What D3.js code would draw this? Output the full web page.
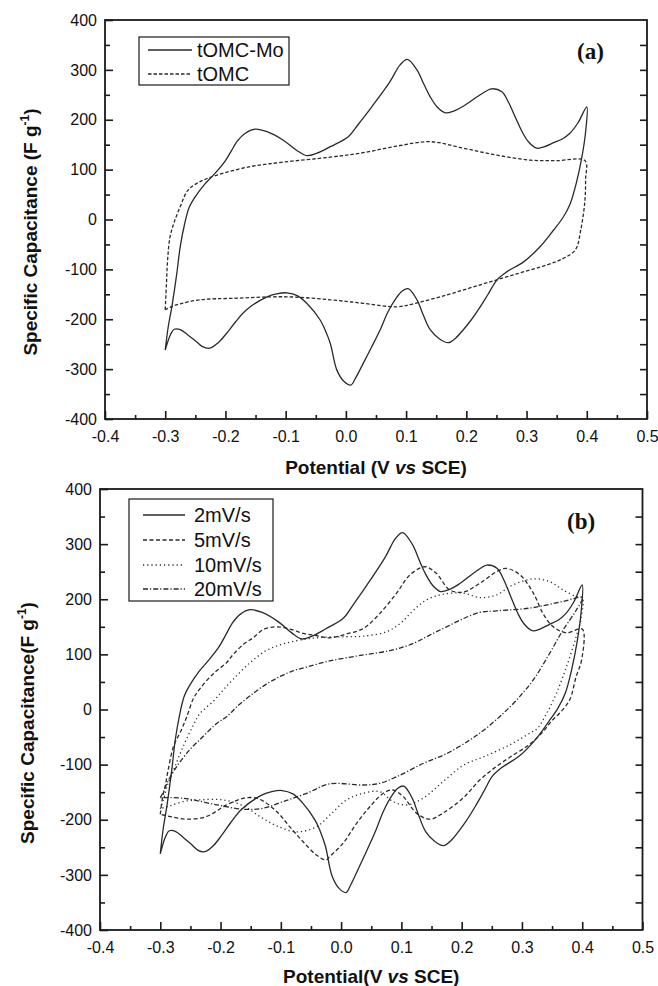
<!DOCTYPE html>
<html>
<head>
<meta charset="utf-8">
<script src="https://cdn.jsdelivr.net/npm/d3@7"></script>
<style>
    body{margin:0;background:#fff;}
    svg{display:block;}
    .tick text{font-family:"Liberation Sans",Arial,sans-serif;font-size:16px;fill:#111;}
    .axisTitle{font-family:"Liberation Sans",Arial,sans-serif;font-size:19px;font-weight:bold;fill:#111;}
    .legendLabel{font-family:"Liberation Sans",Arial,sans-serif;font-size:20px;fill:#111;}
    .panelLabel{font-family:"Liberation Serif","Times New Roman",serif;font-size:23px;font-weight:bold;fill:#111;}
</style>
</head>
<body>
<svg id="chart" width="658" height="986"></svg>
<script>
// ---- data (potential V vs SCE, specific capacitance F/g), each one closed CV loop
var xTicks = [-0.4,-0.3,-0.2,-0.1,0.0,0.1,0.2,0.3,0.4,0.5];
var yTicks = [-400,-300,-200,-100,0,100,200,300,400];

var tomcMo = [
    [-0.300,-262],[-0.295,-215],[-0.289,-175],[-0.281,-110],[-0.275,-54],[-0.268,-10],[-0.260,25],[-0.250,46],
    [-0.235,70],[-0.220,89],[-0.203,113],[-0.190,138],[-0.181,156],[-0.167,173],[-0.151,181],[-0.131,176],
    [-0.104,159],[-0.082,139],[-0.065,128],[-0.048,133],[-0.026,146],[0.004,166],[0.020,190],[0.043,226],
    [0.073,276],[0.090,310],[0.102,321],[0.118,300],[0.130,270],[0.140,246],[0.152,225],[0.165,214],
    [0.180,218],[0.195,227],[0.223,250],[0.242,262],[0.259,256],[0.270,235],[0.281,206],[0.293,175],
    [0.303,156],[0.317,143],[0.330,146],[0.345,154],[0.360,162],[0.372,173],[0.386,195],[0.400,226],
    [0.398,175],[0.392,126],[0.383,75],[0.372,30],[0.360,3],[0.345,-21],[0.322,-55],[0.295,-85],
    [0.267,-105],[0.251,-121],[0.237,-148],[0.223,-175],[0.207,-203],[0.195,-221],[0.182,-238],[0.170,-247],
    [0.155,-239],[0.140,-221],[0.128,-190],[0.118,-161],[0.104,-139],[0.094,-143],[0.085,-155],[0.070,-185],
    [0.057,-221],[0.043,-255],[0.029,-288],[0.016,-318],[0.008,-332],[-0.003,-325],[-0.015,-302],[-0.026,-248],
    [-0.035,-220],[-0.043,-201],[-0.065,-168],[-0.080,-153],[-0.098,-147],[-0.115,-149],[-0.131,-155],[-0.165,-181],
    [-0.183,-205],[-0.198,-228],[-0.212,-247],[-0.226,-258],[-0.238,-255],[-0.248,-245],[-0.262,-232],[-0.275,-221],
    [-0.285,-220],[-0.291,-230],[-0.300,-262]
];

var tomc = [
    [-0.300,-181],[-0.298,-130],[-0.296,-80],[-0.292,-35],[-0.285,-5],[-0.275,26],[-0.262,59],[-0.242,76],
    [-0.214,89],[-0.159,106],[-0.104,115],[-0.026,125],[0.029,134],[0.084,147],[0.140,156],[0.195,143],
    [0.251,129],[0.306,119],[0.350,118],[0.397,118],
    [0.398,80],[0.397,39],[0.390,-21],[0.381,-61],[0.361,-78],[0.334,-91],[0.278,-111],[0.223,-131],
    [0.168,-151],[0.112,-169],[0.085,-175],[0.029,-168],[-0.026,-161],[-0.098,-155],[-0.187,-158],[-0.242,-161],
    [-0.275,-169],[-0.292,-176],[-0.300,-181]
];

var rate2 = tomcMo; // 2 mV/s is the same scan as tOMC-Mo in (a)

var rate5 = [
    [-0.300,-190],[-0.296,-158],[-0.292,-140],[-0.287,-110],[-0.278,-67],[-0.265,-37],[-0.256,-13],[-0.245,20],
    [-0.234,38],[-0.212,65],[-0.190,85],[-0.179,100],[-0.160,120],[-0.146,130],[-0.129,145],[-0.107,150],
    [-0.085,146],[-0.063,138],[-0.041,134],[-0.019,130],[0.009,137],[0.037,147],[0.064,174],[0.092,211],
    [0.114,244],[0.139,259],[0.158,247],[0.180,217],[0.203,213],[0.230,229],[0.258,250],[0.274,256],
    [0.297,244],[0.319,211],[0.335,174],[0.352,150],[0.374,139],[0.400,146],
    [0.399,90],[0.390,60],[0.379,17],[0.363,-6],[0.350,-20],[0.335,-40],[0.313,-63],[0.285,-83],
    [0.258,-103],[0.230,-128],[0.203,-160],[0.169,-188],[0.147,-199],[0.125,-188],[0.103,-158],[0.086,-146],
    [0.070,-152],[0.048,-176],[0.026,-206],[0.003,-243],[-0.019,-267],[-0.025,-273],[-0.041,-264],[-0.063,-240],
    [-0.085,-213],[-0.107,-185],[-0.135,-163],[-0.157,-160],[-0.190,-173],[-0.223,-194],[-0.256,-199],[-0.280,-195],
    [-0.300,-190]
];

var rate10 = [
    [-0.300,-180],[-0.295,-165],[-0.289,-140],[-0.278,-110],[-0.262,-67],[-0.245,-28],[-0.234,-7],[-0.212,15],
    [-0.196,35],[-0.179,55],[-0.151,85],[-0.124,107],[-0.096,119],[-0.063,127],[-0.030,131],[0.009,132],
    [0.037,133],[0.075,141],[0.098,156],[0.120,180],[0.142,199],[0.169,209],[0.203,211],[0.230,203],
    [0.258,208],[0.285,226],[0.319,237],[0.346,232],[0.368,217],[0.390,205],[0.400,203],
    [0.398,165],[0.390,132],[0.374,78],[0.357,29],[0.341,-7],[0.325,-35],[0.313,-43],[0.280,-64],
    [0.236,-86],[0.203,-101],[0.169,-131],[0.136,-161],[0.109,-173],[0.086,-167],[0.064,-149],[0.037,-152],
    [0.009,-164],[-0.019,-192],[-0.041,-213],[-0.074,-222],[-0.107,-211],[-0.135,-194],[-0.162,-175],[-0.196,-164],
    [-0.234,-164],[-0.262,-167],[-0.285,-175],[-0.300,-180]
];

var rate20 = [
    [-0.300,-160],[-0.295,-150],[-0.289,-134],[-0.273,-104],[-0.251,-73],[-0.229,-49],[-0.206,-25],[-0.190,-13],
    [-0.170,8],[-0.146,29],[-0.124,46],[-0.101,60],[-0.080,70],[-0.057,77],[-0.019,88],[0.037,99],
    [0.086,108],[0.120,120],[0.147,135],[0.175,150],[0.203,165],[0.230,176],[0.258,179],[0.313,184],
    [0.368,196],[0.400,203],
    [0.390,180],[0.368,144],[0.346,102],[0.319,54],[0.291,17],[0.263,-13],[0.236,-38],[0.214,-55],
    [0.175,-80],[0.136,-98],[0.092,-122],[0.064,-134],[0.037,-137],[-0.019,-135],[-0.057,-152],[-0.096,-167],
    [-0.129,-179],[-0.162,-181],[-0.206,-173],[-0.262,-161],[-0.300,-160]
];

var seriesA = [
    {label:"tOMC-Mo", values:tomcMo, dash:null},
    {label:"tOMC",    values:tomc,   dash:"3.5,2"}
];
var seriesB = [
    {label:"2mV/s",  values:rate2,  dash:null},
    {label:"5mV/s",  values:rate5,  dash:"4,2.5"},
    {label:"10mV/s", values:rate10, dash:"1.2,3"},
    {label:"20mV/s", values:rate20, dash:"5,2,1.2,2"}
];

// ---- layout of the two panels (pixel boxes)
var panels = [
    {series:seriesA, left:105, right:647, top:20, bottom:419, tag:"(a)", tagX:577, tagY:59,
     yTitle:["Specific Capacitance (F g", ")"], yTitleX:37, yTitleY:232,
     xTitle:"Potential (V ", xTitleY:474,
     legend:{x:139, y:37, w:150, h:48, lineX0:148, lineX1:192, textX:197, rowY:[50,74]}},
    {series:seriesB, left:100, right:642.5, top:489, bottom:930, tag:"(b)", tagX:567, tagY:529,
     yTitle:["Specific Capacitance(F g", ")"], yTitleX:34, yTitleY:723,
     xTitle:"Potential(V ", xTitleY:983,
     legend:{x:129, y:499, w:144, h:102, lineX0:143, lineX1:185, textX:194, rowY:[515,540,565,589]}}
];

var svg = d3.select("#chart");
var ink = "#1a1a1a";
var hyphen = function(f){ return function(d){ return f(d).replace("\u2212","-"); }; };

panels.forEach(function(p){

    var x = d3.scaleLinear().domain([-0.4,0.5]).range([p.left,p.right]);
    var y = d3.scaleLinear().domain([-400,400]).range([p.bottom,p.top]);

    var g = svg.append("g").attr("class","panel");

    // -- axes (ticks point inward)
    var xMinor = d3.range(-0.35,0.5,0.1);
    var yMinor = d3.range(-350,400,100);

    g.append("g").attr("transform","translate(0,"+p.bottom+")")
        .call(d3.axisTop(x).tickValues(xMinor).tickSize(4).tickFormat(""));
    g.append("g").attr("class","xMajor").attr("transform","translate(0,"+p.bottom+")")
        .call(d3.axisTop(x).tickValues(xTicks).tickSize(8).tickFormat(hyphen(d3.format(".1f"))));
    g.select(".xMajor").selectAll(".tick text").attr("y",23).attr("dy","0");

    g.append("g").attr("transform","translate("+p.left+",0)")
        .call(d3.axisRight(y).tickValues(yMinor).tickSize(5).tickFormat(""));
    g.append("g").attr("class","yMajor").attr("transform","translate("+p.left+",0)")
        .call(d3.axisRight(y).tickValues(yTicks).tickSize(8).tickFormat(hyphen(d3.format("d"))));
    g.select(".yMajor").selectAll(".tick text").attr("x",-8).attr("text-anchor","end");

    g.append("g").attr("transform","translate("+p.right+",0)")
        .call(d3.axisLeft(y).tickValues(d3.range(-350,400,50)).tickSize(7).tickFormat(""));

    g.selectAll(".domain").remove();
    g.selectAll(".tick line").attr("stroke",ink).attr("stroke-width",1.6);

    // -- frame
    g.append("rect").attr("x",p.left).attr("y",p.top)
        .attr("width",p.right-p.left).attr("height",p.bottom-p.top)
        .attr("fill","none").attr("stroke",ink).attr("stroke-width",1.8);

    // -- curves
    var line = d3.line()
        .x(function(d){return x(d[0]);})
        .y(function(d){return y(d[1]);})
        .curve(d3.curveCatmullRom.alpha(0.5));

    g.selectAll(".cv").data(p.series).enter().append("path")
        .attr("class","cv")
        .attr("d",function(d){return line(d.values);})
        .attr("fill","none")
        .attr("stroke","#2a2a2a")
        .attr("stroke-width",1.3)
        .attr("stroke-dasharray",function(d){return d.dash;});

    // -- legend
    var L = p.legend;
    g.append("rect").attr("x",L.x).attr("y",L.y).attr("width",L.w).attr("height",L.h)
        .attr("fill","#fff").attr("stroke",ink).attr("stroke-width",1.2);

    var rows = g.selectAll(".legendRow").data(p.series).enter().append("g")
        .attr("class","legendRow")
        .attr("transform",function(d,i){return "translate(0,"+L.rowY[i]+")";});
    rows.append("line").attr("x1",L.lineX0).attr("x2",L.lineX1).attr("y1",0).attr("y2",0)
        .attr("stroke","#2a2a2a").attr("stroke-width",1.3)
        .attr("stroke-dasharray",function(d){return d.dash;});
    rows.append("text").attr("class","legendLabel").attr("x",L.textX).attr("y",7)
        .text(function(d){return d.label;});

    // -- panel tag
    g.append("text").attr("class","panelLabel").attr("x",p.tagX).attr("y",p.tagY).text(p.tag);

    // -- axis titles
    var xt = g.append("text").attr("class","axisTitle")
        .attr("x",(p.left+p.right)/2).attr("y",p.xTitleY).attr("text-anchor","middle");
    xt.append("tspan").text(p.xTitle);
    xt.append("tspan").attr("font-style","italic").text("vs");
    xt.append("tspan").text(" SCE)");

    var yt = g.append("text").attr("class","axisTitle").attr("text-anchor","middle")
        .attr("transform","translate("+p.yTitleX+","+p.yTitleY+") rotate(-90)");
    yt.append("tspan").text(p.yTitle[0]);
    yt.append("tspan").attr("font-size","12px").attr("dy",-8).text("-1");
    yt.append("tspan").attr("dy",8).text(p.yTitle[1]);
});
</script>
</body>
</html>
